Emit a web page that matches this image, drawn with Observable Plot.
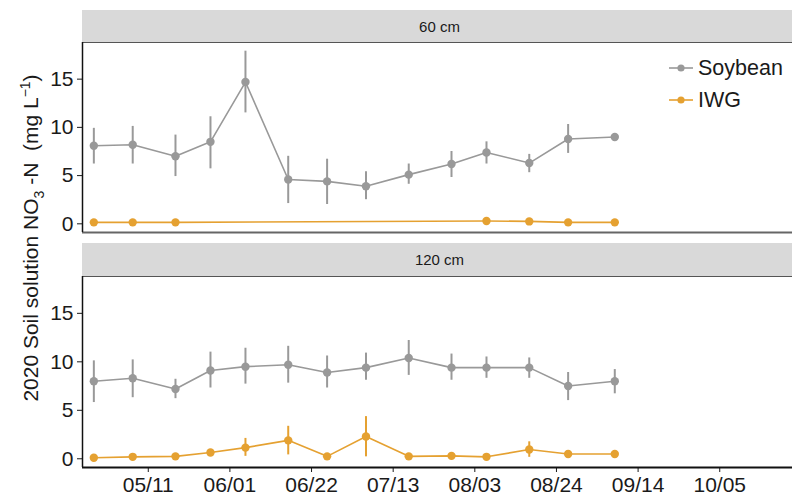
<!DOCTYPE html>
<html>
<head>
<meta charset="utf-8">
<script src="https://cdn.jsdelivr.net/npm/d3@7"></script>
<script src="https://cdn.jsdelivr.net/npm/@observablehq/plot@0.6"></script>
<style>
  html, body { margin: 0; padding: 0; background: #fff; overflow: hidden; }
  #chart { position: relative; width: 792px; height: 502px; overflow: hidden; font-family: "Liberation Sans", Arial, sans-serif; color: #1a1a1a; }
  .plotbox { position: absolute; left: 0; width: 800px; }
  .plotbox svg { max-width: none !important; }
  .strip { position: absolute; left: 82px; width: 715px; background: #d9d9d9; font-size: 15px; color: #1a1a1a; display: flex; align-items: center; justify-content: center; }
  .ytitle { position: absolute; left: 32px; top: 238px; transform: translate(-50%, -50%) rotate(-90deg); white-space: nowrap; font-size: 21px; color: #1a1a1a; }
  .legend { position: absolute; left: 668px; font-size: 21.5px; display: flex; align-items: center; color: #1a1a1a; }
  .legend svg { margin-right: 4px; }
</style>
</head>
<body>
<div id="chart"></div>
<script>
// ---- data ----
const dates = ["2020-04-27","2020-05-07","2020-05-18","2020-05-27","2020-06-05","2020-06-16","2020-06-26","2020-07-06","2020-07-17","2020-07-28","2020-08-06","2020-08-17","2020-08-27","2020-09-08"];
const seriesNames = ["Soybean", "IWG"];
const seriesColors = ["#999999", "#E5A131"];
const depths = ["60 cm", "120 cm"];

const soy60   = [8.1, 8.2, 7.0, 8.5, 14.7, 4.6, 4.4, 3.9, 5.1, 6.2, 7.4, 6.3, 8.8, 9.0];
const soy60Lo = [6.2, 6.2, 4.9, 5.7, 11.5, 2.1, 2.0, 2.5, 4.1, 4.8, 6.2, 5.3, 7.3, 8.8];
const soy60Hi = [9.9, 10.1, 9.2, 11.1, 17.9, 7.0, 6.7, 5.4, 6.2, 7.5, 8.5, 7.2, 10.3, 9.2];
const iwg60   = [0.15, 0.15, 0.15, null, null, null, null, null, null, null, 0.3, 0.25, 0.15, 0.15];
const iwg60Lo = [0.1, 0.1, 0.1, null, null, null, null, null, null, null, 0.2, 0.15, 0.1, 0.1];
const iwg60Hi = [0.2, 0.2, 0.2, null, null, null, null, null, null, null, 0.4, 0.35, 0.2, 0.2];

const soy120   = [8.0, 8.3, 7.2, 9.1, 9.5, 9.7, 8.9, 9.4, 10.4, 9.4, 9.4, 9.4, 7.5, 8.0];
const soy120Lo = [5.8, 6.3, 6.2, 7.3, 7.7, 7.8, 7.3, 8.1, 8.6, 8.1, 8.3, 8.3, 6.0, 6.7];
const soy120Hi = [10.1, 10.2, 8.2, 11.0, 11.4, 11.6, 10.6, 10.9, 12.2, 10.8, 10.5, 10.4, 8.9, 9.2];
const iwg120   = [0.1, 0.2, 0.25, 0.65, 1.15, 1.9, 0.25, 2.3, 0.25, 0.3, 0.2, 0.95, 0.5, 0.5];
const iwg120Lo = [0.0, 0.1, 0.15, 0.4, 0.25, 0.4, 0.15, 0.2, 0.15, 0.2, 0.1, 0.15, 0.4, 0.4];
const iwg120Hi = [0.2, 0.3, 0.35, 0.9, 2.1, 3.35, 0.35, 4.35, 0.35, 0.4, 0.3, 1.75, 0.6, 0.6];

const xTicks = ["2020-05-11","2020-06-01","2020-06-22","2020-07-13","2020-08-03","2020-08-24","2020-09-14","2020-10-05"];
const xDomain = ["2020-04-24T02:00","2020-10-25"];
const yTicks = [0, 5, 10, 15];
const yDomain = [-0.9, 18.8];

// ---- build tables ----
function rows(series, v, lo, hi) {
  return dates.map((d, i) => ({date: new Date(d + "T00:00Z"), series, value: v[i], lo: lo[i], hi: hi[i]}))
    .filter(r => r.value != null);
}
const panels = [
  rows("Soybean", soy60, soy60Lo, soy60Hi).concat(rows("IWG", iwg60, iwg60Lo, iwg60Hi)),
  rows("Soybean", soy120, soy120Lo, soy120Hi).concat(rows("IWG", iwg120, iwg120Lo, iwg120Hi))
];
const xd = xDomain.map(s => new Date(s + (s.includes("T") ? "Z" : "T00:00Z")));
const xt = xTicks.map(s => new Date(s + "T00:00Z"));

const chartEl = document.getElementById("chart");

function makePanel(data, opts) {
  return Plot.plot({
    width: 800,
    height: opts.height,
    marginLeft: 82,
    marginRight: 3,
    marginTop: opts.marginTop,
    marginBottom: opts.marginBottom,
    style: {fontFamily: "Liberation Sans, Arial, sans-serif", fontSize: "21px", color: "#1a1a1a", background: "transparent", overflow: "visible", maxWidth: "none"},
    x: opts.showX
      ? {type: "utc", domain: xd, ticks: xt, tickFormat: d3.utcFormat("%m/%d"), tickSize: 5, tickPadding: 5, label: null}
      : {type: "utc", domain: xd, axis: null},
    y: {domain: yDomain, ticks: yTicks, tickSize: 5, tickPadding: 4, label: null},
    color: {domain: seriesNames, range: seriesColors},
    marks: [
      Plot.frame({stroke: "#555", strokeWidth: 1}),
      Plot.ruleX(data, {x: "date", y1: "lo", y2: "hi", stroke: "series", strokeWidth: 2}),
      Plot.line(data, {x: "date", y: "value", z: "series", stroke: "series", strokeWidth: 1.6}),
      Plot.dot(data, {x: "date", y: "value", fill: "series", r: 4.2}),
      Plot.ruleY([yDomain[0]], {stroke: opts.bottomColor, strokeWidth: 1.8}),
      Plot.ruleX([xd[0]], {stroke: "#111", strokeWidth: 1.5})
    ]
  });
}

const topPlot = makePanel(panels[0], {height: 240, marginTop: 42, marginBottom: 8, showX: false, bottomColor: "#666"});
const botPlot = makePanel(panels[1], {height: 262, marginTop: 36, marginBottom: 35, showX: true, bottomColor: "#111"});
const tb = document.createElement("div"); tb.className = "plotbox"; tb.style.top = "0px"; tb.appendChild(topPlot);
const bb = document.createElement("div"); bb.className = "plotbox"; bb.style.top = "240px"; bb.appendChild(botPlot);
chartEl.appendChild(tb); chartEl.appendChild(bb);

// strips
[[10, 32], [243, 33]].forEach(([t, h], i) => {
  const s = document.createElement("div");
  s.className = "strip";
  s.style.top = t + "px"; s.style.height = h + "px";
  s.textContent = depths[i];
  chartEl.appendChild(s);
});

// y title
const yt = document.createElement("div");
yt.className = "ytitle";
yt.innerHTML = "2020 Soil solution NO<sub style='font-size:14px'>3</sub> -N&nbsp;&nbsp;(mg L<sup style='font-size:14px'>&minus;1</sup>)";
chartEl.appendChild(yt);

// legend
seriesNames.forEach((name, i) => {
  const l = document.createElement("div");
  l.className = "legend";
  l.style.top = (54 + i * 32) + "px";
  l.style.height = "28px";
  l.innerHTML = `<svg width="26" height="12"><line x1="1" x2="25" y1="6" y2="6" stroke="${seriesColors[i]}" stroke-width="1.6"/><circle cx="13" cy="6" r="3.6" fill="${seriesColors[i]}"/></svg><span>${name}</span>`;
  chartEl.appendChild(l);
});
</script>
</body>
</html>
